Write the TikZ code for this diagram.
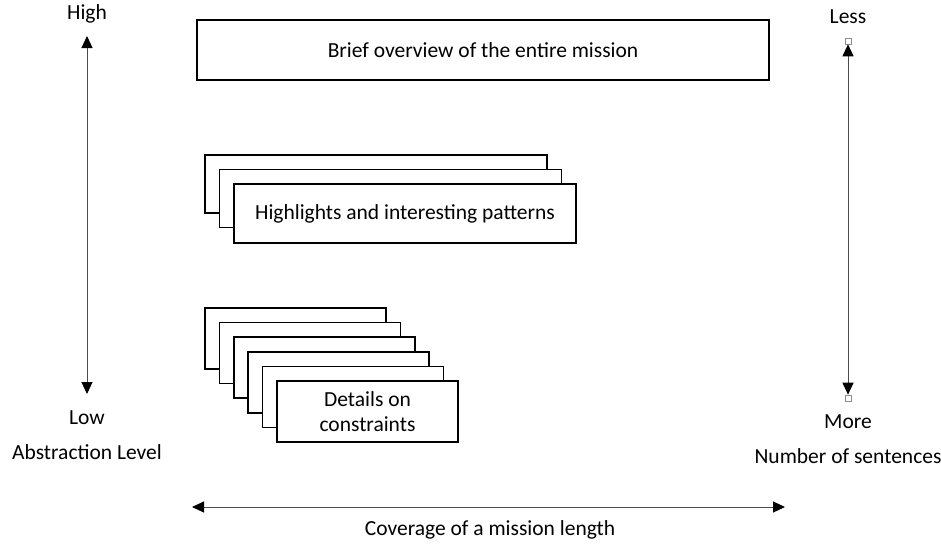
\documentclass[tikz,border=0pt]{standalone}
\usepackage{fontspec}
\setmainfont{Carlito}
\usetikzlibrary{arrows.meta}
\begin{document}
\begin{tikzpicture}[x=1pt,y=-1pt,
  box/.style={draw=black,line width=1.5pt,fill=white,minimum height=60pt,inner sep=0pt,font=\fontsize{21.5}{25}\selectfont,align=center},
  lbl/.style={font=\fontsize{21.5}{25}\selectfont,inner sep=0pt},
  axis/.style={draw=black!70,line width=1pt,{Triangle[length=12pt,width=11pt,color=black]}-{Triangle[length=12pt,width=11pt,color=black]}},
  handle/.style={draw=black!45,fill=white,line width=0.6pt,minimum size=6pt,inner sep=0pt}]
\useasboundingbox (0,0) rectangle (941,546);
% top box
\node[box,minimum width=572pt] (brief) at (483,50) {Brief overview of the entire mission};
% highlights stack
\foreach \i in {0,1} {
  \node[box,minimum width=342pt,minimum height=58pt] (h\i) at (376+14.5*\i,184+14.5*\i) {};
}
\node[box,minimum width=342pt,minimum height=59pt] (h2) at (405,213.5) {Highlights and interesting patterns};
% details stack
\foreach \i in {0,...,4} {
  \node[box,minimum width=181pt,minimum height=61pt] (d\i) at (295.5+14.4*\i,338.5+14.6*\i) {};
}
\node[box,minimum width=181pt,minimum height=61pt] (d5) at (367.5,411.5) {Details on\\constraints};
% left axis
\coordinate (lt) at (87,36);
\coordinate (lb) at (87,394);
\draw[axis] (lb) -- (lt);
\node[lbl] (high) at (87,14) {High};
\node[lbl] (low) at (87,418) {Low};
\node[lbl] (abs) at (87,452) {Abstraction Level};
% right axis
\node[handle] (rt) at (848,41) {};
\node[handle] (rb) at (848,398) {};
\draw[axis] (rb.north) -- (rt.south);
\node[lbl] (less) at (848,17) {Less};
\node[lbl] (more) at (848,422) {More};
\node[lbl] (num) at (848,456) {Number of sentences};
% bottom axis
\coordinate (bl) at (192,507);
\coordinate (br) at (785,507);
\draw[axis] (bl) -- (br);
\node[lbl] (cov) at (490,530) {Coverage of a mission length};
\end{tikzpicture}
\end{document}
